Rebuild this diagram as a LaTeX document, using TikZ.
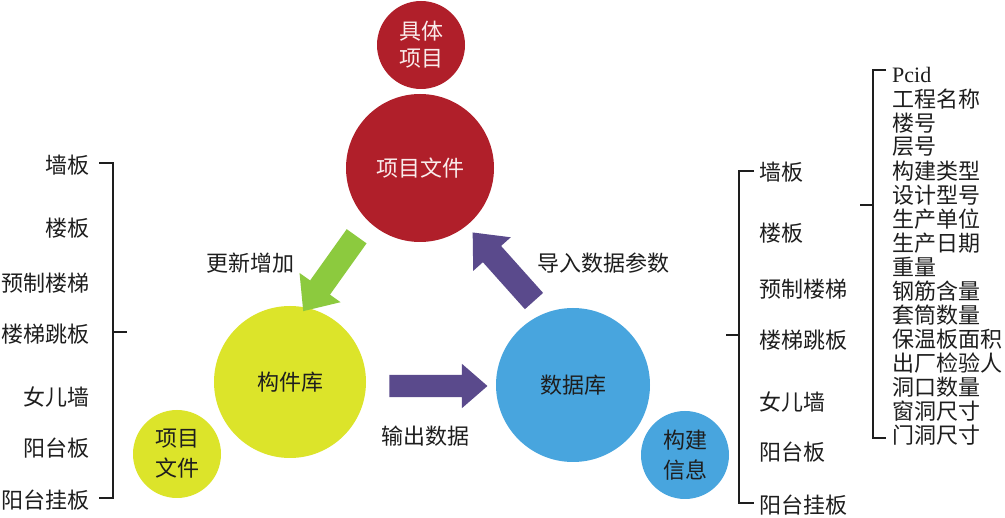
\documentclass[tikz,border=0pt]{standalone}
\usepackage{fontspec}
\setmainfont{Noto Sans CJK SC}
\newfontfamily\latinserif{Liberation Serif}
\usetikzlibrary{shapes.arrows}
\definecolor{cred}{RGB}{176,31,42}
\definecolor{cyel}{RGB}{220,228,42}
\definecolor{cblue}{RGB}{72,165,222}
\definecolor{cgreen}{RGB}{140,202,62}
\definecolor{cpurple}{RGB}{90,74,140}
\definecolor{ctext}{RGB}{30,30,30}
\definecolor{cwtext}{RGB}{250,236,236}
\tikzset{
  ball/.style={circle, inner sep=0pt, align=center, font=\fontsize{22}{27}\selectfont},
  redball/.style={ball, fill=cred, text=cwtext},
  yelball/.style={ball, fill=cyel, text=ctext},
  blueball/.style={ball, fill=cblue, text=ctext},
  blockarrow/.style={single arrow, inner xsep=0pt, inner ysep=12pt, single arrow tip angle=82,
     single arrow head indent=0pt},
  lbl/.style={font=\fontsize{22}{24}\selectfont, text=ctext, inner sep=0pt},
  brk/.style={draw=ctext, line width=1.1pt},
}
\begin{document}
\begin{tikzpicture}[x=1pt,y=-1pt]
\useasboundingbox[fill=white] (0,0) rectangle (1005,518);
% circles
\node[redball, minimum size=88pt] (jt) at (421,45) {具体\\项目};
\node[redball, minimum size=148pt] (xm) at (420,168) {项目文件};
\node[yelball, minimum size=152pt] (gj) at (290,382) {构件库};
\node[blueball, minimum size=154pt] (sj) at (573,385) {数据库};
\node[yelball, minimum size=88pt, font=\fontsize{22}{30}\selectfont] (xm2) at (177,454) {项目\\文件};
\node[blueball, minimum size=88pt, font=\fontsize{22}{30}\selectfont] (gx) at (685,455) {构建\\信息};
% block arrows
\node[blockarrow, fill=cgreen, minimum height=92pt, minimum width=50pt,
  single arrow head extend=13pt, rotate=234.5] (a1) at (334,268) {};
\node[blockarrow, fill=cpurple, minimum height=92pt, minimum width=50pt,
  single arrow head extend=13pt, rotate=131.8] (a2) at (508,272) {};
\node[blockarrow, fill=cpurple, minimum height=98pt, minimum width=44pt, inner ysep=11pt,
  single arrow head extend=11pt] (a3) at (432,386) {};
% arrow labels
\node[lbl] (l1) at (250,263) {更新增加};
\node[lbl] (l2) at (603,263) {导入数据参数};
\node[lbl] (l3) at (425,436) {输出数据};
% left list
\foreach \t/\y [count=\i] in {墙板/165,楼板/228,预制楼梯/283,楼梯跳板/334,女儿墙/397,阳台板/448,阳台挂板/500}
  \node[lbl, anchor=east] (L\i) at (90,\y) {\t};
\coordinate (lt) at (113,163);
\coordinate (lb) at (113,498);
\coordinate (lm) at (113,332);
\draw[brk] ([xshift=-14pt]lt) -- (lt) -- (lb) -- ([xshift=-14pt]lb);
\draw[brk] (lm) -- ([xshift=14pt]lm);
% right list
\foreach \t/\y [count=\i] in {墙板/172,楼板/233,预制楼梯/289,楼梯跳板/340,女儿墙/402,阳台板/452,阳台挂板/505}
  \node[lbl, anchor=west] (R\i) at (759,\y) {\t};
\coordinate (rt) at (739,171);
\coordinate (rb) at (739,503);
\coordinate (rm) at (739,335);
\draw[brk] ([xshift=15pt]rt) -- (rt) -- (rb) -- ([xshift=15pt]rb);
\draw[brk] (rm) -- ([xshift=-13pt]rm);
% far right list
\node[lbl, anchor=west] (P1) at (892,75) {\latinserif Pcid};
\foreach \t [count=\i from 2] in {工程名称,楼号,层号,构建类型,设计型号,生产单位,生产日期,重量,钢筋含量,套筒数量,保温板面积,出厂检验人,洞口数量,窗洞尺寸,门洞尺寸}
  \node[lbl, anchor=west] (P\i) at (892,{75+24*(\i-1)}) {\t};
\coordinate (ft) at (873,70);
\coordinate (fb) at (873,438);
\coordinate (fm) at (873,205);
\draw[brk] ([xshift=13pt]ft) -- (ft) -- (fb) -- ([xshift=13pt]fb);
\draw[brk] (fm) -- ([xshift=-13pt]fm);
\end{tikzpicture}
\end{document}
